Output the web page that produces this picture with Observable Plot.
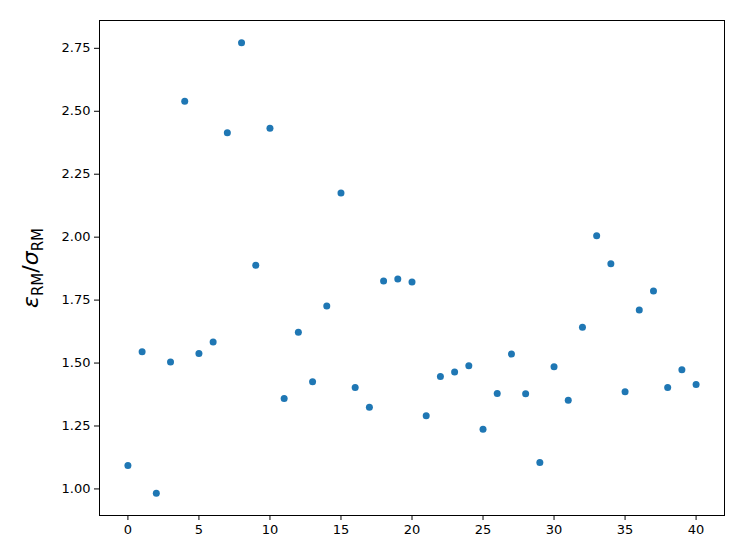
<!DOCTYPE html>
<html>
<head>
<meta charset="utf-8">
<script src="https://cdn.jsdelivr.net/npm/d3@7"></script>
<script src="https://cdn.jsdelivr.net/npm/@observablehq/plot@0.6"></script>
<style>
  body { margin: 0; background: #fff; }
  #chart svg { display: block; }
</style>
</head>
<body>
<div id="chart"></div>
<script>
const indices = d3.range(0, 41);
const ratios = [
  1.093, 1.545, 0.983, 1.504, 2.540, 1.538, 1.584, 2.415, 2.772, 1.888,
  2.433, 1.359, 1.622, 1.426, 1.727, 2.175, 1.403, 1.324, 1.826, 1.834,
  1.822, 1.291, 1.447, 1.464, 1.489, 1.237, 1.379, 1.536, 1.378, 1.105,
  1.485, 1.352, 1.642, 2.006, 1.894, 1.386, 1.711, 1.786, 1.403, 1.473,
  1.415
];
const xTicks = [0, 5, 10, 15, 20, 25, 30, 35, 40];
const yTicks = [1.00, 1.25, 1.50, 1.75, 2.00, 2.25, 2.50, 2.75];

const data = indices.map((i, k) => ({i, r: ratios[k]}));

const chart = Plot.plot({
  width: 747,
  height: 560,
  marginLeft: 99,
  marginRight: 23,
  marginTop: 20,
  marginBottom: 45,
  style: {fontFamily: "DejaVu Sans", fontSize: "13px", color: "#000", background: "#fff"},
  x: {domain: [-2, 42], ticks: xTicks, tickSize: 5, tickPadding: 4, label: null, tickFormat: d => String(d)},
  y: {domain: [0.8945, 2.8605], ticks: yTicks, tickSize: 5, tickPadding: 4, label: null, tickFormat: d => d.toFixed(2)},
  marks: [
    Plot.frame({stroke: "#000", strokeWidth: 1}),
    Plot.dot(data, {x: "i", y: "r", r: 3.5, fill: "#1f77b4", stroke: "none"})
  ]
});
document.getElementById("chart").appendChild(chart);

// y-axis label with subscripts
const svg = d3.select(chart);
const lab = svg.append("text")
  .attr("transform", "translate(38,268) rotate(-90)")
  .attr("text-anchor", "middle")
  .attr("font-family", "DejaVu Sans")
  .attr("font-size", 22)
  .attr("fill", "#000");
lab.append("tspan").attr("font-style", "italic").text("ε");
lab.append("tspan").attr("font-size", 15).attr("dy", 5).text("RM");
lab.append("tspan").attr("dy", -5).text("/");
lab.append("tspan").attr("font-style", "italic").text("σ");
lab.append("tspan").attr("font-size", 15).attr("dy", 5).text("RM");
</script>
</body>
</html>
